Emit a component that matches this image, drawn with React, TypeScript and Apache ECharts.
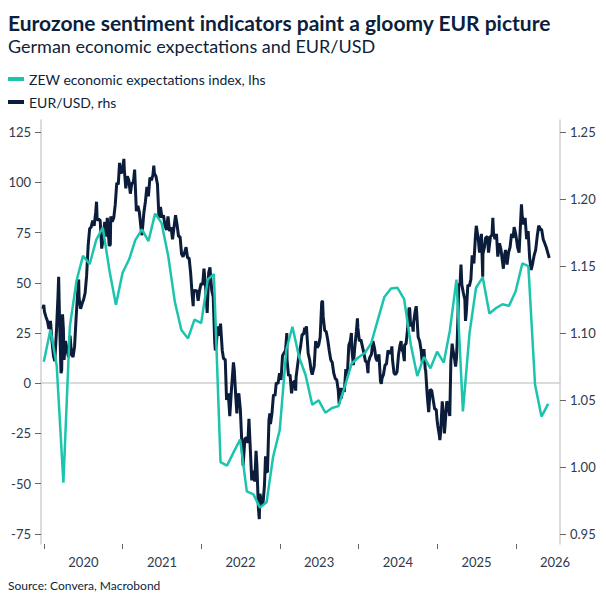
import React, { useEffect, useRef } from "react";
import * as echarts from "echarts";

const TITLE = "Eurozone sentiment indicators paint a gloomy EUR picture";
const SUBTITLE = "German economic expectations and EUR/USD";
const SOURCE = "Source: Convera, Macrobond";
const ZEW_NAME = "ZEW economic expectations index, lhs";
const EUR_NAME = "EUR/USD, rhs";

const TEAL = "#1cc4ae";
const NAVY = "#0b1d3a";
const TEXT = "#0c1f3d";
const FONT = "Lato";

// Axis ticks
const yearTicks = [2020, 2021, 2022, 2023, 2024, 2025, 2026];
const leftAxis = { min: -75, max: 125, step: 25 };
const rightAxis = { min: 0.95, max: 1.25, step: 0.05 };

// ZEW monthly values, Dec 2019 .. May 2026 (plotted at month end)
const zewStart = { year: 2019, month: 12 };
const zewValues = [
  10.7,
  26.7, 8.7, -49.5, 28.2, 51.0, 63.4, 59.3, 71.5, 77.4, 56.1, 39.0, 55.0,
  61.8, 71.2, 76.6, 70.7, 84.4, 79.8, 63.3, 40.4, 26.5, 22.3, 31.7, 29.9,
  51.7, 54.3, -39.3, -41.0, -34.3, -28.0, -53.8, -55.3, -61.9, -59.2, -36.7, -23.3,
  16.9, 28.1, 13.0, 4.1, -10.7, -8.5, -14.7, -12.3, -11.4, -1.1, 9.8, 12.8,
  15.2, 19.9, 31.7, 42.9, 47.1, 47.5, 41.8, 19.2, 3.6, 13.1, 7.4, 15.7,
  10.3, 26.0, 51.6, -14.0, 25.2, 47.5, 52.7, 34.7, 37.3, 39.3, 38.5, 45.8,
  59.6, 58.3, -0.6, -16.6, -10.3,
];

// EUR/USD
const eurusd2020: [string, number][] = [
  ["2019-12-27", 1.118], ["2019-12-31", 1.121],
  ["2020-01-03", 1.116], ["2020-01-10", 1.112], ["2020-01-17", 1.109], ["2020-01-24", 1.103], ["2020-01-31", 1.109],
  ["2020-02-07", 1.094], ["2020-02-14", 1.083], ["2020-02-20", 1.079], ["2020-02-28", 1.102],
  ["2020-03-06", 1.128], ["2020-03-09", 1.142], ["2020-03-13", 1.111], ["2020-03-20", 1.070], ["2020-03-23", 1.072], ["2020-03-27", 1.114], ["2020-03-31", 1.103],
  ["2020-04-03", 1.080], ["2020-04-10", 1.094], ["2020-04-17", 1.087], ["2020-04-24", 1.082],
  ["2020-05-01", 1.098], ["2020-05-08", 1.084], ["2020-05-15", 1.082], ["2020-05-22", 1.090], ["2020-05-29", 1.111],
  ["2020-06-05", 1.129], ["2020-06-10", 1.140], ["2020-06-12", 1.126], ["2020-06-19", 1.118], ["2020-06-26", 1.122],
  ["2020-07-03", 1.125], ["2020-07-10", 1.130], ["2020-07-17", 1.143], ["2020-07-24", 1.165], ["2020-07-31", 1.178],
  ["2020-08-07", 1.179], ["2020-08-14", 1.184], ["2020-08-21", 1.180], ["2020-08-28", 1.190],
  ["2020-09-01", 1.198], ["2020-09-04", 1.184], ["2020-09-11", 1.185], ["2020-09-18", 1.184], ["2020-09-25", 1.163],
  ["2020-10-02", 1.171], ["2020-10-09", 1.183], ["2020-10-16", 1.172], ["2020-10-21", 1.186], ["2020-10-30", 1.165],
  ["2020-11-04", 1.166], ["2020-11-06", 1.187], ["2020-11-13", 1.183], ["2020-11-20", 1.186], ["2020-11-27", 1.196],
  ["2020-12-04", 1.212], ["2020-12-11", 1.211], ["2020-12-17", 1.227], ["2020-12-24", 1.219], ["2020-12-31", 1.222],
];
const eurusd2021: [string, number][] = [
  ["2021-01-06", 1.230], ["2021-01-08", 1.222], ["2021-01-15", 1.208], ["2021-01-22", 1.217], ["2021-01-29", 1.214],
  ["2021-02-05", 1.204], ["2021-02-12", 1.212], ["2021-02-19", 1.212], ["2021-02-25", 1.222],
  ["2021-03-05", 1.191], ["2021-03-12", 1.195], ["2021-03-19", 1.190], ["2021-03-26", 1.179], ["2021-03-31", 1.173],
  ["2021-04-09", 1.190], ["2021-04-16", 1.198], ["2021-04-23", 1.209], ["2021-04-30", 1.202],
  ["2021-05-07", 1.216], ["2021-05-14", 1.214], ["2021-05-21", 1.218], ["2021-05-25", 1.225], ["2021-05-28", 1.219],
  ["2021-06-04", 1.217], ["2021-06-11", 1.211], ["2021-06-18", 1.186], ["2021-06-25", 1.194],
  ["2021-07-02", 1.186], ["2021-07-09", 1.188], ["2021-07-16", 1.180], ["2021-07-23", 1.177], ["2021-07-30", 1.187],
  ["2021-08-06", 1.176], ["2021-08-13", 1.179], ["2021-08-20", 1.170], ["2021-08-27", 1.179],
  ["2021-09-03", 1.188], ["2021-09-10", 1.181], ["2021-09-17", 1.172], ["2021-09-24", 1.172],
  ["2021-10-01", 1.159], ["2021-10-08", 1.157], ["2021-10-15", 1.160], ["2021-10-22", 1.164], ["2021-10-29", 1.156],
  ["2021-11-05", 1.156], ["2021-11-12", 1.145], ["2021-11-19", 1.129], ["2021-11-24", 1.120], ["2021-11-26", 1.132],
  ["2021-12-03", 1.131], ["2021-12-10", 1.132], ["2021-12-17", 1.124], ["2021-12-24", 1.132], ["2021-12-31", 1.137],
];
const eurusd2022: [string, number][] = [
  ["2022-01-07", 1.136], ["2022-01-13", 1.148], ["2022-01-21", 1.134], ["2022-01-28", 1.115],
  ["2022-02-04", 1.145], ["2022-02-10", 1.149], ["2022-02-18", 1.132], ["2022-02-25", 1.127],
  ["2022-03-04", 1.093], ["2022-03-07", 1.087], ["2022-03-11", 1.091], ["2022-03-18", 1.105], ["2022-03-25", 1.098], ["2022-03-31", 1.107],
  ["2022-04-08", 1.087], ["2022-04-14", 1.081], ["2022-04-22", 1.080], ["2022-04-28", 1.050],
  ["2022-05-06", 1.055], ["2022-05-13", 1.038], ["2022-05-20", 1.056], ["2022-05-30", 1.078],
  ["2022-06-03", 1.072], ["2022-06-10", 1.052], ["2022-06-15", 1.040], ["2022-06-17", 1.049], ["2022-06-24", 1.055],
  ["2022-07-01", 1.043], ["2022-07-08", 1.018], ["2022-07-14", 1.001], ["2022-07-22", 1.021], ["2022-07-29", 1.022],
  ["2022-08-05", 1.018], ["2022-08-10", 1.036], ["2022-08-19", 1.004], ["2022-08-23", 0.990], ["2022-08-26", 0.997],
  ["2022-09-02", 0.995], ["2022-09-06", 0.989], ["2022-09-12", 1.012], ["2022-09-16", 1.001], ["2022-09-23", 0.969], ["2022-09-27", 0.961], ["2022-09-30", 0.980],
  ["2022-10-07", 0.974], ["2022-10-14", 0.972], ["2022-10-21", 0.986], ["2022-10-26", 1.008], ["2022-10-28", 0.997],
  ["2022-11-04", 0.996], ["2022-11-11", 1.035], ["2022-11-15", 1.040], ["2022-11-18", 1.032], ["2022-11-25", 1.040],
  ["2022-12-02", 1.054], ["2022-12-09", 1.053], ["2022-12-15", 1.063], ["2022-12-23", 1.062], ["2022-12-30", 1.070],
];
const eurusd2023: [string, number][] = [
  ["2023-01-06", 1.065], ["2023-01-13", 1.083], ["2023-01-20", 1.085], ["2023-01-27", 1.087],
  ["2023-02-02", 1.100], ["2023-02-03", 1.080], ["2023-02-10", 1.068], ["2023-02-17", 1.069], ["2023-02-24", 1.055],
  ["2023-03-03", 1.063], ["2023-03-10", 1.064], ["2023-03-15", 1.057], ["2023-03-17", 1.067], ["2023-03-24", 1.076], ["2023-03-31", 1.084],
  ["2023-04-07", 1.090], ["2023-04-14", 1.099], ["2023-04-21", 1.099], ["2023-04-26", 1.104], ["2023-04-28", 1.101],
  ["2023-05-04", 1.105], ["2023-05-12", 1.085], ["2023-05-19", 1.080], ["2023-05-26", 1.072], ["2023-05-31", 1.069],
  ["2023-06-09", 1.075], ["2023-06-16", 1.094], ["2023-06-23", 1.089], ["2023-06-30", 1.091],
  ["2023-07-07", 1.097], ["2023-07-14", 1.123], ["2023-07-18", 1.124], ["2023-07-21", 1.112], ["2023-07-28", 1.102],
  ["2023-08-04", 1.101], ["2023-08-11", 1.095], ["2023-08-18", 1.087], ["2023-08-25", 1.080],
  ["2023-09-01", 1.078], ["2023-09-08", 1.070], ["2023-09-15", 1.066], ["2023-09-22", 1.065], ["2023-09-29", 1.057],
  ["2023-10-03", 1.047], ["2023-10-06", 1.059], ["2023-10-13", 1.051], ["2023-10-20", 1.059], ["2023-10-27", 1.056],
  ["2023-11-03", 1.073], ["2023-11-10", 1.068], ["2023-11-17", 1.091], ["2023-11-24", 1.094], ["2023-11-29", 1.100],
  ["2023-12-01", 1.088], ["2023-12-08", 1.076], ["2023-12-15", 1.090], ["2023-12-22", 1.101], ["2023-12-27", 1.111], ["2023-12-29", 1.104],
];
const eurusd2024: [string, number][] = [
  ["2024-01-05", 1.094], ["2024-01-12", 1.095], ["2024-01-19", 1.090], ["2024-01-26", 1.085],
  ["2024-02-02", 1.079], ["2024-02-09", 1.078], ["2024-02-14", 1.070], ["2024-02-16", 1.078], ["2024-02-23", 1.082],
  ["2024-03-01", 1.084], ["2024-03-08", 1.094], ["2024-03-15", 1.089], ["2024-03-22", 1.081], ["2024-03-28", 1.079],
  ["2024-04-05", 1.084], ["2024-04-12", 1.064], ["2024-04-16", 1.062], ["2024-04-19", 1.066], ["2024-04-26", 1.069],
  ["2024-05-03", 1.076], ["2024-05-10", 1.077], ["2024-05-17", 1.087], ["2024-05-24", 1.085], ["2024-05-31", 1.085],
  ["2024-06-04", 1.090], ["2024-06-07", 1.080], ["2024-06-14", 1.070], ["2024-06-21", 1.069], ["2024-06-28", 1.071],
  ["2024-07-05", 1.084], ["2024-07-12", 1.091], ["2024-07-17", 1.094], ["2024-07-19", 1.088], ["2024-07-26", 1.086],
  ["2024-08-01", 1.079], ["2024-08-02", 1.091], ["2024-08-09", 1.092], ["2024-08-16", 1.103], ["2024-08-23", 1.119], ["2024-08-26", 1.118], ["2024-08-30", 1.105],
  ["2024-09-06", 1.108], ["2024-09-11", 1.101], ["2024-09-13", 1.108], ["2024-09-20", 1.116], ["2024-09-25", 1.120], ["2024-09-27", 1.116],
  ["2024-10-04", 1.097], ["2024-10-11", 1.094], ["2024-10-18", 1.087], ["2024-10-23", 1.078], ["2024-10-25", 1.080], ["2024-10-31", 1.088],
  ["2024-11-06", 1.073], ["2024-11-08", 1.072], ["2024-11-15", 1.054], ["2024-11-22", 1.041], ["2024-11-29", 1.058],
  ["2024-12-06", 1.057], ["2024-12-13", 1.050], ["2024-12-20", 1.043], ["2024-12-27", 1.043], ["2024-12-31", 1.035],
];
const eurusd2025: [string, number][] = [
  ["2025-01-03", 1.031], ["2025-01-10", 1.024], ["2025-01-13", 1.020], ["2025-01-17", 1.027], ["2025-01-24", 1.049], ["2025-01-31", 1.036],
  ["2025-02-03", 1.025], ["2025-02-07", 1.033], ["2025-02-14", 1.049], ["2025-02-21", 1.046], ["2025-02-28", 1.038],
  ["2025-03-05", 1.079], ["2025-03-07", 1.083], ["2025-03-11", 1.092], ["2025-03-14", 1.088], ["2025-03-21", 1.082], ["2025-03-27", 1.075], ["2025-03-31", 1.081],
  ["2025-04-04", 1.096], ["2025-04-11", 1.136], ["2025-04-17", 1.137], ["2025-04-21", 1.151], ["2025-04-25", 1.136],
  ["2025-05-02", 1.130], ["2025-05-09", 1.125], ["2025-05-12", 1.109], ["2025-05-16", 1.116], ["2025-05-23", 1.136], ["2025-05-30", 1.135],
  ["2025-06-06", 1.140], ["2025-06-12", 1.158], ["2025-06-20", 1.152], ["2025-06-27", 1.172],
  ["2025-07-01", 1.180], ["2025-07-04", 1.177], ["2025-07-11", 1.169], ["2025-07-16", 1.160], ["2025-07-18", 1.163], ["2025-07-25", 1.174], ["2025-07-31", 1.142],
  ["2025-08-01", 1.159], ["2025-08-08", 1.164], ["2025-08-13", 1.171], ["2025-08-22", 1.172], ["2025-08-27", 1.160],
  ["2025-09-05", 1.172], ["2025-09-12", 1.173], ["2025-09-16", 1.186], ["2025-09-19", 1.175], ["2025-09-26", 1.170],
  ["2025-10-03", 1.174], ["2025-10-09", 1.157], ["2025-10-17", 1.167], ["2025-10-24", 1.162], ["2025-10-31", 1.153],
  ["2025-11-04", 1.148], ["2025-11-07", 1.156], ["2025-11-14", 1.162], ["2025-11-21", 1.151], ["2025-11-28", 1.160],
  ["2025-12-05", 1.164], ["2025-12-12", 1.174], ["2025-12-19", 1.171], ["2025-12-24", 1.179], ["2025-12-31", 1.174],
];
const eurusd2026: [string, number][] = [
  ["2026-01-02", 1.172], ["2026-01-09", 1.164], ["2026-01-16", 1.160], ["2026-01-23", 1.183], ["2026-01-27", 1.196], ["2026-01-30", 1.188],
  ["2026-02-06", 1.181], ["2026-02-13", 1.186], ["2026-02-20", 1.170], ["2026-02-27", 1.176],
  ["2026-03-06", 1.156], ["2026-03-13", 1.147], ["2026-03-20", 1.152], ["2026-03-27", 1.158],
  ["2026-04-03", 1.162], ["2026-04-10", 1.172], ["2026-04-17", 1.180], ["2026-04-24", 1.178],
  ["2026-05-01", 1.177], ["2026-05-08", 1.170], ["2026-05-15", 1.167], ["2026-05-22", 1.164], ["2026-05-29", 1.160],
  ["2026-06-05", 1.156],
];

const ts = (s: string) => {
  const [y, m, d] = s.split("-").map(Number);
  return Date.UTC(y, m - 1, d);
};

// Plot frame
const X_MIN = Date.UTC(2019, 11, 18);
const X_MAX = Date.UTC(2026, 6, 25);
const LEFT_MIN = -80;
const LEFT_MAX = 131;
const RIGHT_MIN = 0.9425;
const RIGHT_MAX = 1.259;
const GRID = { left: 41, right: 46, top: 120, bottom: 63, width: 606, height: 607 };

export default function App() {
  const ref = useRef<HTMLDivElement>(null);

  useEffect(() => {
    if (!ref.current) return;
    const chart = echarts.init(ref.current, undefined, { renderer: "svg" });

    const zewData = zewValues.map((v, i) => {
      const idx = zewStart.year * 12 + (zewStart.month - 1) + i;
      const y = Math.floor(idx / 12);
      const m = idx % 12;
      return [Date.UTC(y, m + 1, 0), v];
    });
    const eurData = [
      ...eurusd2020, ...eurusd2021, ...eurusd2022, ...eurusd2023,
      ...eurusd2024, ...eurusd2025, ...eurusd2026,
    ].map(([d, v]) => [ts(d), v]);

    const yearMids = yearTicks.map((y) => Date.UTC(y, 6, 2));

    // Derived grids so that tick-only axes line up with the main scales
    const plotW = GRID.width - GRID.left - GRID.right;
    const plotH = GRID.height - GRID.top - GRID.bottom;
    const pxPerLeft = plotH / (LEFT_MAX - LEFT_MIN);
    const tickGridY = {
      left: GRID.left,
      right: GRID.right,
      top: GRID.top + (LEFT_MAX - leftAxis.max) * pxPerLeft,
      bottom: GRID.bottom + (leftAxis.min - LEFT_MIN) * pxPerLeft,
    };
    const firstYear = Date.UTC(yearTicks[0], 0, 1);
    const lastYear = Date.UTC(yearTicks[yearTicks.length - 1], 0, 1);
    const pxPerMs = plotW / (X_MAX - X_MIN);
    const tickGridX = {
      left: GRID.left + (firstYear - X_MIN) * pxPerMs,
      right: GRID.right + (X_MAX - lastYear) * pxPerMs,
      top: GRID.top,
      bottom: GRID.bottom,
    };

    const labelStyle = { fontFamily: FONT, fontSize: 13, color: "#2e3a4e" };
    const axisLine = { show: true, lineStyle: { color: "#cfcfcf", width: 1.5 } };
    const tickStyle = { show: true, length: 6, lineStyle: { color: "#666666", width: 1 } };
    const hidden = { show: false };

    chart.setOption({
      animation: false,
      backgroundColor: "#ffffff",
      title: {
        text: TITLE,
        subtext: SUBTITLE,
        left: 8,
        top: 12,
        padding: 0,
        itemGap: 4,
        textStyle: { fontFamily: FONT, fontSize: 21, fontWeight: "bold", color: TEXT },
        subtextStyle: { fontFamily: FONT, fontSize: 18, fontWeight: "normal", color: TEXT },
      },
      legend: {
        orient: "vertical",
        left: 8,
        top: 72,
        padding: 0,
        itemWidth: 16,
        itemHeight: 4,
        itemGap: 9,
        icon: "rect",
        selectedMode: false,
        data: [ZEW_NAME, EUR_NAME],
        textStyle: { fontFamily: FONT, fontSize: 14, color: TEXT },
      },
      grid: [
        { left: GRID.left, right: GRID.right, top: GRID.top, bottom: GRID.bottom, containLabel: false },
        { ...tickGridY, containLabel: false },
        { ...tickGridX, containLabel: false },
      ],
      xAxis: [
        {
          gridIndex: 0,
          type: "value",
          min: X_MIN,
          max: X_MAX,
          axisLine,
          axisTick: hidden,
          axisLabel: {
            ...labelStyle,
            margin: 11,
            customValues: yearMids,
            formatter: (v: number) => String(new Date(v).getUTCFullYear()),
          },
          splitLine: hidden,
        },
        { gridIndex: 1, type: "value", min: 0, max: 1, show: false },
        {
          gridIndex: 2,
          type: "value",
          min: 0,
          max: yearTicks.length - 1,
          interval: 1,
          axisLine: hidden,
          axisTick: { ...tickStyle, length: 5 },
          axisLabel: hidden,
          splitLine: hidden,
        },
      ],
      yAxis: [
        {
          gridIndex: 0,
          type: "value",
          position: "left",
          min: LEFT_MIN,
          max: LEFT_MAX,
          axisLine,
          axisTick: hidden,
          axisLabel: hidden,
          splitLine: hidden,
        },
        {
          gridIndex: 0,
          type: "value",
          position: "right",
          min: RIGHT_MIN,
          max: RIGHT_MAX,
          axisLine,
          axisTick: hidden,
          axisLabel: hidden,
          splitLine: hidden,
        },
        {
          gridIndex: 1,
          type: "value",
          position: "left",
          min: leftAxis.min,
          max: leftAxis.max,
          interval: leftAxis.step,
          axisLine: hidden,
          axisTick: tickStyle,
          axisLabel: { ...labelStyle, margin: 10, formatter: (v: number) => String(v) },
          splitLine: hidden,
        },
        {
          gridIndex: 1,
          type: "value",
          position: "right",
          min: rightAxis.min,
          max: rightAxis.max,
          interval: rightAxis.step,
          axisLine: hidden,
          axisTick: tickStyle,
          axisLabel: { ...labelStyle, margin: 10, formatter: (v: number) => v.toFixed(2) },
          splitLine: hidden,
        },
        { gridIndex: 2, type: "value", min: 0, max: 1, show: false },
      ],
      graphic: [
        {
          type: "text",
          left: 8,
          top: 579,
          style: { text: SOURCE, font: `12px ${FONT}`, fill: TEXT },
        },
      ],
      series: [
        {
          name: EUR_NAME,
          type: "line",
          xAxisIndex: 0,
          yAxisIndex: 1,
          data: eurData,
          showSymbol: false,
          symbol: "none",
          color: NAVY,
          lineStyle: { color: NAVY, width: 3 },
          z: 2,
        },
        {
          name: ZEW_NAME,
          type: "line",
          xAxisIndex: 0,
          yAxisIndex: 0,
          data: zewData,
          showSymbol: false,
          symbol: "none",
          color: TEAL,
          lineStyle: { color: TEAL, width: 2.5 },
          z: 3,
        },
      ],
    });

    return () => chart.dispose();
  }, []);

  return (
    <div
      ref={ref}
      style={{ position: "fixed", left: 0, top: 0, width: 606, height: 607, background: "#fff" }}
    />
  );
}
